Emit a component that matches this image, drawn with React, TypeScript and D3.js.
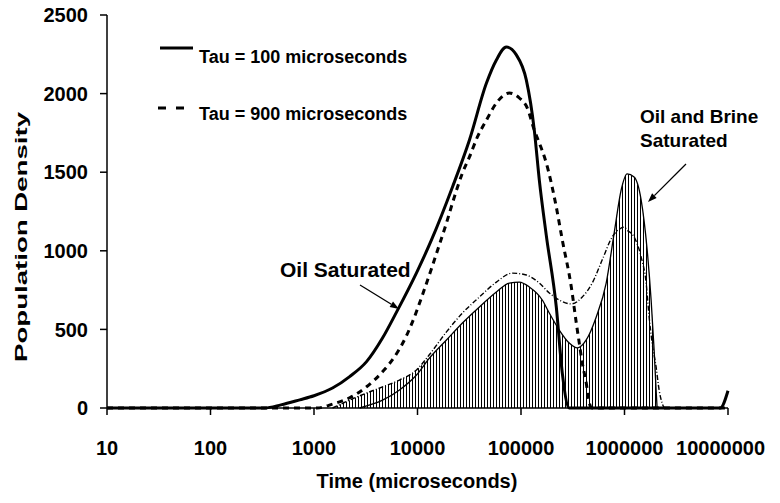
import React from "react";
import * as d3 from "d3";

const W = 780;
const H = 503;

// X: time (microseconds), log scale; Y: population density
const xTicks = [10, 100, 1000, 10000, 100000, 1000000, 10000000];
const xTickLabels = ["10", "100", "1000", "10000", "100000", "1000000", "10000000"];
const yTicks = [0, 500, 1000, 1500, 2000, 2500];
const yTickLabels = ["0", "500", "1000", "1500", "2000", "2500"];

// Oil saturated, Tau = 100 microseconds (thick solid)
const tau100: [number, number][] = [
  [10, 0], [334, 0], [480, 20], [728, 52], [1000, 78], [1510, 127], [2210, 200],
  [3220, 295], [4590, 445], [6270, 610], [9780, 860], [13650, 1069], [21780, 1406],
  [31770, 1705], [46380, 2067], [57830, 2214], [72150, 2296], [90150, 2246],
  [112500, 2087], [134400, 1768], [150300, 1450], [175400, 1100], [219200, 644],
  [250600, 222], [292600, 0], [8400000, 0], [10000000, 110],
];

// Oil saturated, Tau = 900 microseconds (thick dashed)
const tau900: [number, number][] = [
  [10, 0], [1070, 0], [1510, 25], [2210, 65], [3220, 135], [4590, 230], [6270, 345],
  [7830, 460], [9350, 580], [11170, 720], [16300, 1040], [19050, 1177], [21780, 1304],
  [27180, 1495], [31770, 1597], [37930, 1724], [46380, 1832], [57830, 1940], [77140, 2004],
  [96390, 1972], [115100, 1908], [134400, 1768], [150300, 1686], [175400, 1559],
  [219200, 1279], [250600, 1069], [306200, 770], [342100, 541], [365700, 413],
  [391000, 286], [426900, 159], [456400, 32], [487800, 0], [10000000, 0],
];

// Oil and brine saturated, Tau = 100 (thin solid)
const brine100: [number, number][] = [
  [2755, 0], [4590, 50], [6700, 115], [9780, 210], [13060, 318], [19050, 433], [27180, 541],
  [39650, 643], [57830, 738], [77140, 795], [96390, 801], [120300, 770], [160600, 687],
  [187600, 604], [234300, 496], [292600, 413], [349900, 382], [426900, 433], [533300, 579],
  [665300, 795], [794600, 1113], [928900, 1387], [1059000, 1489], [1238000, 1470],
  [1449000, 1323], [1656000, 1005], [1808000, 687], [1933000, 369], [2020000, 115], [2066000, 0],
];

// Oil and brine saturated, Tau = 900 (thin dotted)
const brine900: [number, number][] = [
  [1510, 0], [2210, 50], [3220, 95], [4590, 134], [6700, 178], [9780, 242], [13060, 340],
  [19050, 484], [27180, 604], [39650, 706], [57830, 801], [82450, 858], [112500, 846],
  [150300, 795], [187600, 732], [234300, 687], [306200, 662], [391000, 706], [487800, 795],
  [608300, 941], [760300, 1088], [928900, 1145], [990000, 1151], [1059000, 1132],
  [1238000, 1088], [1449000, 960], [1619000, 795], [1730000, 579], [1850000, 413],
  [2020000, 261], [2160000, 115], [2307000, 32], [2414000, 0],
];

// Hatched (filled) region top
const hatchTop: [number, number][] = [
  [1510, 0], [2210, 50], [3220, 95], [4590, 134], [6700, 178], [9780, 242], [13060, 324],
  [19050, 433], [27180, 541], [39650, 643], [57830, 738], [77140, 795], [96390, 801],
  [120300, 770], [160600, 687], [187600, 604], [234300, 496], [292600, 413], [349900, 382],
  [426900, 433], [533300, 579], [665300, 795], [794600, 1113], [928900, 1387],
  [1059000, 1489], [1238000, 1470], [1449000, 1323], [1656000, 1005], [1808000, 687],
  [1933000, 369], [2020000, 115], [2066000, 0],
];

const FONT = "'Liberation Sans', Arial, sans-serif";

function Arrow({ x1, y1, x2, y2 }: { x1: number; y1: number; x2: number; y2: number }) {
  const a = Math.atan2(y2 - y1, x2 - x1);
  const L = 9, w = 3.2;
  const bx = x2 - L * Math.cos(a), by = y2 - L * Math.sin(a);
  const p1 = [bx + w * Math.sin(a), by - w * Math.cos(a)];
  const p2 = [bx - w * Math.sin(a), by + w * Math.cos(a)];
  return (
    <g>
      <line x1={x1} y1={y1} x2={bx} y2={by} stroke="#000" strokeWidth={1.3} />
      <polygon points={`${x2},${y2} ${p1[0]},${p1[1]} ${p2[0]},${p2[1]}`} fill="#000" />
    </g>
  );
}

export default function App() {
  const x = d3.scaleLog().domain([10, 1e7]).range([107, 728]);
  const y = d3.scaleLinear().domain([0, 2500]).range([408, 15]);
  const line = d3
    .line<[number, number]>()
    .x((d) => x(d[0]))
    .y((d) => y(d[1]))
    .curve(d3.curveMonotoneX);
  const area = d3
    .area<[number, number]>()
    .x((d) => x(d[0]))
    .y0(y(0))
    .y1((d) => y(d[1]))
    .curve(d3.curveMonotoneX);

  return (
    <svg
      width={W}
      height={H}
      style={{ position: "absolute", left: 0, top: 0, background: "#fff" }}
      fontFamily={FONT}
      fontWeight="bold"
    >
      <defs>
        <pattern id="vhatch" patternUnits="userSpaceOnUse" width={3} height={10}>
          <line x1={1.5} y1={0} x2={1.5} y2={10} stroke="#000" strokeWidth={1} />
        </pattern>
      </defs>
      <rect x={0} y={0} width={W} height={H} fill="#fff" />

      {/* hatched area */}
      <path d={area(hatchTop) || ""} fill="url(#vhatch)" stroke="none" />

      {/* thin curves */}
      <path d={line(brine100) || ""} fill="none" stroke="#000" strokeWidth={1.3} />
      <path
        d={line(brine900) || ""}
        fill="none"
        stroke="#000"
        strokeWidth={1.4}
        strokeDasharray="5 2 1 2"
      />

      {/* thick curves */}
      <path
        d={line(tau900) || ""}
        fill="none"
        stroke="#000"
        strokeWidth={3}
        strokeDasharray="6 5"
      />
      <path d={line(tau100) || ""} fill="none" stroke="#000" strokeWidth={3} />

      {/* axes */}
      <line x1={107} y1={y(2500)} x2={107} y2={y(0)} stroke="#000" strokeWidth={1.5} />
      <line x1={107} y1={y(0)} x2={x(1e7)} y2={y(0)} stroke="#000" strokeWidth={1.5} />
      {yTicks.map((t, i) => (
        <g key={"y" + t}>
          <line x1={100} x2={107} y1={y(t)} y2={y(t)} stroke="#000" strokeWidth={1.5} />
          <text x={88} y={y(t)} dy="0.36em" textAnchor="end" fontSize={20}>
            {yTickLabels[i]}
          </text>
        </g>
      ))}
      {xTicks.map((t, i) => (
        <g key={"x" + t}>
          <line x1={x(t)} x2={x(t)} y1={y(0)} y2={y(0) + 7} stroke="#000" strokeWidth={1.5} />
          <text
            x={i === xTicks.length - 1 ? 765 : x(t)}
            y={455}
            textAnchor={i === xTicks.length - 1 ? "end" : "middle"}
            fontSize={20}
          >
            {xTickLabels[i]}
          </text>
        </g>
      ))}

      <text x={417} y={488} textAnchor="middle" fontSize={20}>
        Time (microseconds)
      </text>
      <text
        transform="translate(27,237) rotate(-90)"
        textAnchor="middle"
        fontSize={16}
        textLength={250}
        lengthAdjust="spacingAndGlyphs"
      >
        Population Density
      </text>

      {/* legend */}
      <line x1={160} x2={193} y1={48} y2={48} stroke="#000" strokeWidth={3} />
      <text x={199} y={63} fontSize={18}>Tau = 100 microseconds</text>
      <line x1={158} x2={185} y1={108} y2={108} stroke="#000" strokeWidth={3.2} strokeDasharray="8 10" />
      <text x={199} y={120} fontSize={18}>Tau = 900 microseconds</text>

      {/* annotations */}
      <text x={280} y={277} fontSize={21}>Oil Saturated</text>
      <Arrow x1={360} y1={285} x2={399} y2={309} />
      <text x={640} y={123} fontSize={19}>Oil and Brine</text>
      <text x={640} y={147} fontSize={19}>Saturated</text>
      <Arrow x1={686} y1={164} x2={648} y2={202} />
    </svg>
  );
}
